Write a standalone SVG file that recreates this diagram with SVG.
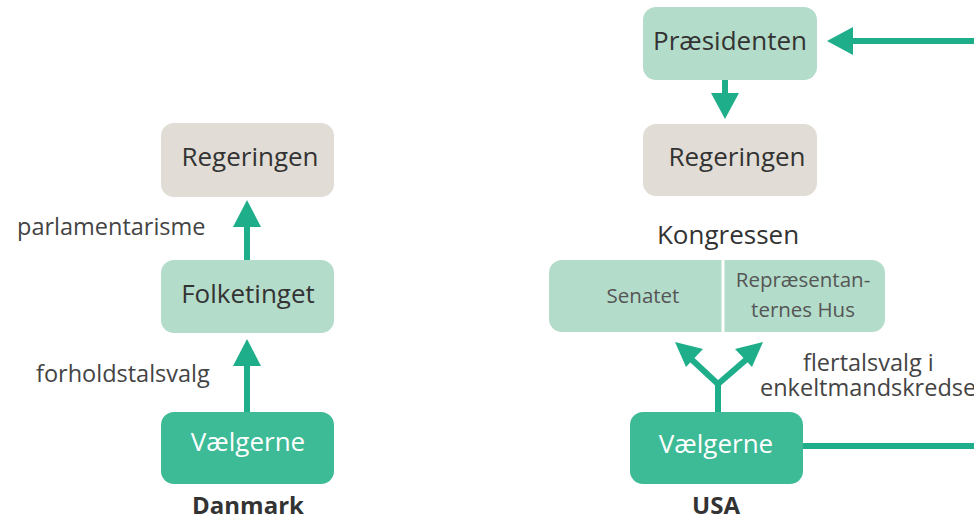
<svg xmlns="http://www.w3.org/2000/svg" width="974" height="521" viewBox="0 0 974 521">
<defs>
<style>
.t{font-family:"Open Sans","Noto Sans",sans-serif;fill:#333;}
.box{font-size:26px;text-anchor:middle;}
.lbl{font-size:23.5px;fill:#444;}
.sm{font-size:20.5px;fill:#555;text-anchor:middle;}
.gray{fill:#e1ddd6;}
.lg{fill:#b3dcca;}
.dg{fill:#3dba96;}
.ln{stroke:#1fae8a;stroke-width:6;fill:none;}
.ah{fill:#1fae8a;}
</style>
</defs>
<rect width="974" height="521" fill="#fff"/>
<g id="dk-regeringen"><rect class="gray" x="161" y="123" width="173" height="74" rx="13"/><text class="t box" x="250" y="166">Regeringen</text></g>
<g id="dk-folketinget"><rect class="lg" x="161" y="260" width="173" height="73" rx="13"/><text class="t box" x="248" y="303">Folketinget</text></g>
<g id="dk-vaelgerne"><rect class="dg" x="161" y="412" width="173" height="72" rx="13"/><text class="t box" x="248" y="451" style="fill:#fff">Vælgerne</text></g>
<g id="us-praesidenten"><rect class="lg" x="643" y="7" width="174" height="73" rx="13"/><text class="t box" x="730" y="50">Præsidenten</text></g>
<g id="us-regeringen"><rect class="gray" x="643" y="124" width="174" height="72" rx="13"/><text class="t box" x="737" y="166">Regeringen</text></g>
<g id="us-kongressen"><text class="t box" x="728" y="244">Kongressen</text>
<rect class="lg" x="549" y="260" width="336" height="72" rx="13"/>
<line x1="723" y1="260" x2="723" y2="332" stroke="#fff" stroke-width="3"/>
<text class="t sm" x="643" y="303">Senatet</text>
<text class="t sm" x="803" y="287">Repræsentan-</text>
<text class="t sm" x="803" y="317">ternes Hus</text></g>
<g id="us-vaelgerne"><rect class="dg" x="630" y="412" width="173" height="72" rx="13"/><text class="t box" x="716" y="453" style="fill:#fff">Vælgerne</text></g>
<g id="labels">
<text class="t lbl" x="17" y="235">parlamentarisme</text>
<text class="t lbl" x="36" y="382">forholdstalsvalg</text>
<text class="t lbl" x="803" y="371">flertalsvalg i</text>
<text class="t lbl" x="760" y="396">enkeltmandskredse</text>
<text class="t box" x="248" y="514" style="font-weight:bold;font-size:24px">Danmark</text>
<text class="t box" x="716" y="514" style="font-weight:bold;font-size:24px">USA</text>
</g>
<g id="connectors">
<line class="ln" x1="247" y1="260" x2="247" y2="222"/>
<polygon class="ah" points="247,200 233,227 261,227"/>
<line class="ln" x1="247" y1="412" x2="247" y2="360"/>
<polygon class="ah" points="247,339 233,366 261,366"/>
<line class="ln" x1="725" y1="80" x2="725" y2="98"/>
<polygon class="ah" points="725,119 711,93 739,93"/>
<line class="ln" x1="974" y1="41" x2="848" y2="41"/>
<polygon class="ah" points="827,41 853,27 853,55"/>
<polyline class="ln" points="718,412 718,384 690,358"/>
<line class="ln" x1="718" y1="384" x2="748" y2="358"/>
<polygon class="ah" points="675,342 703,349 686,367"/>
<polygon class="ah" points="763,342 752,367 735,349"/>
<line class="ln" x1="803" y1="446" x2="974" y2="446"/>
</g>
</svg>
